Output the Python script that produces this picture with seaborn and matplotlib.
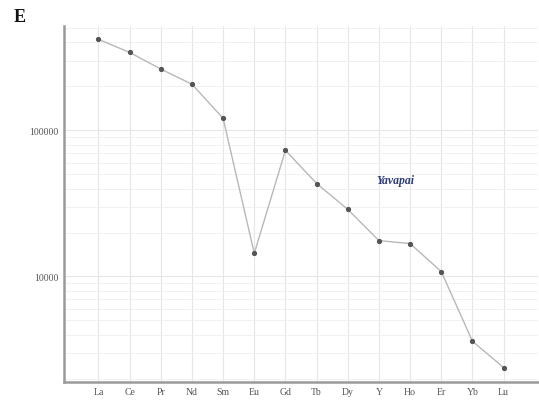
import matplotlib
matplotlib.use('Agg')
import matplotlib.pyplot as plt
import seaborn as sns
import pandas as pd
from matplotlib.ticker import LogLocator, FixedFormatter, FixedLocator

elements = ['La', 'Ce', 'Pr', 'Nd', 'Sm', 'Eu', 'Gd', 'Tb', 'Dy', 'Y', 'Ho', 'Er', 'Yb', 'Lu']
values = [420000, 342000, 263000, 207000, 121000, 14400, 73000, 43300, 28800, 17600, 16800, 10800, 3600, 2380]

df = pd.DataFrame({'pos': range(len(elements)), 'value': values})

sns.set_theme(style="whitegrid")
plt.rcParams['font.family'] = ['Liberation Serif', 'DejaVu Serif']

fig = plt.figure(figsize=(5.39, 4.06), dpi=100)
ax = fig.add_axes([0.119, 0.057, 0.879, 0.877])

sns.lineplot(data=df, x='pos', y='value', ax=ax, color='#b8b8b8', linewidth=1.0,
             marker='o', markersize=3, markerfacecolor='#555555', markeredgecolor='#555555')

ax.set_yscale('log')
ax.set_ylim(1900, 520000)
ax.set_xlim(-1.1, 14.1)

ax.xaxis.set_major_locator(FixedLocator(range(len(elements))))
ax.set_xticklabels(elements)
ax.yaxis.set_major_locator(FixedLocator([10000, 100000]))
ax.yaxis.set_major_formatter(FixedFormatter(['10000', '100000']))
ax.yaxis.set_minor_locator(LogLocator(base=10, subs=range(2, 10)))

ax.tick_params(axis='both', labelsize=7, colors='#555555', length=0, pad=4)
ax.tick_params(axis='y', which='minor', length=0)
ax.set_xlabel('')
ax.set_ylabel('')

ax.grid(True, which='major', color='#e6e6e6', linewidth=0.8)
ax.grid(True, which='minor', axis='y', color='#efefef', linewidth=0.6)

for side in ['top', 'right']:
    ax.spines[side].set_visible(False)
for side in ['left', 'bottom']:
    ax.spines[side].set_color('#9a9a9a')
    ax.spines[side].set_linewidth(1.8)

# label placed in figure pixel coordinates (from bottom-left)
ax.text(395 / 539, 1 - 181 / 406, 'Yavapai', transform=fig.transFigure, fontsize=8.5,
        style='italic', fontweight='bold', color='#2b3a78', ha='center', va='center')
fig.text(14 / 539, 1 - 18 / 406, 'E', fontsize=13, fontweight='bold', color='#111111',
         ha='left', va='center')

fig.savefig('out.png', dpi=100)
